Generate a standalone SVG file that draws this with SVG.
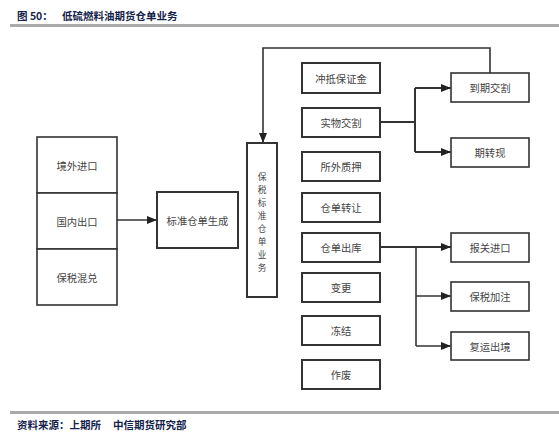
<svg xmlns="http://www.w3.org/2000/svg" width="559" height="435" viewBox="0 0 559 435">
<style>
.t{font-family:"Noto Sans CJK SC","Liberation Sans",sans-serif;font-size:10.3px;fill:#444;text-anchor:middle;dominant-baseline:central}
.v{font-size:8.7px}
.h{font-family:"Noto Sans CJK SC","Liberation Sans",sans-serif;font-size:10.5px;font-weight:bold;fill:#14234a}
.b{fill:#fff;stroke:#333;stroke-width:1.6}
.b2{fill:#fff;stroke:#333;stroke-width:2}
.c{fill:none;stroke:#333;stroke-width:1.6}
.c2{fill:none;stroke:#333;stroke-width:2}
</style>
<defs>
<marker id="ar" viewBox="0 0 10 8" refX="10" refY="4" markerWidth="10" markerHeight="8" markerUnits="userSpaceOnUse" orient="auto">
<path d="M0,0 L10,4 L0,8 Z" fill="#222"/>
</marker>
</defs>
<rect width="559" height="435" fill="#fff"/>
<g id="header">
<text class="h" x="17" y="15" dominant-baseline="central">图 50：</text>
<text class="h" x="62" y="15" dominant-baseline="central">低硫燃料油期货仓单业务</text>
<rect x="10" y="24" width="549" height="3" fill="#aaa"/>
</g>
<g id="footer">
<rect x="10" y="411" width="549" height="3" fill="#aaa"/>
<text class="h" x="17" y="424" dominant-baseline="central">资料来源：上期所</text>
<text class="h" x="113" y="424" dominant-baseline="central">中信期货研究部</text>
</g>
<g id="connectors">
<path class="c" d="M117,220 H157" marker-end="url(#ar)"/>
<path class="c" d="M490,73 V48 H263 V143" marker-end="url(#ar)"/>
<path class="c2" d="M380,122 H415"/>
<path class="c2" d="M415,88 V152"/>
<path class="c2" d="M415,88 H451" marker-end="url(#ar)"/>
<path class="c2" d="M415,152 H451" marker-end="url(#ar)"/>
<path class="c2" d="M380,247 H451" marker-end="url(#ar)"/>
<path class="c" d="M416,247 V346"/>
<path class="c" d="M416,296 H451" marker-end="url(#ar)"/>
<path class="c" d="M416,346 H451" marker-end="url(#ar)"/>
</g>
<g id="n-jingwai"><rect class="b" x="37" y="137" width="80" height="56"/><text class="t" x="77" y="165">境外进口</text></g>
<g id="n-guonei"><rect class="b" x="37" y="193" width="80" height="56"/><text class="t" x="77" y="221">国内出口</text></g>
<g id="n-baoshui"><rect class="b" x="37" y="249" width="80" height="56"/><text class="t" x="77" y="277">保税混兑</text></g>
<g id="n-biaozhun"><rect class="b2" x="157" y="192" width="81" height="56"/><text class="t" x="197.5" y="220">标准仓单生成</text></g>
<g id="n-vertical"><rect class="b2" x="247" y="143" width="30" height="154"/>
<text class="t v" x="262"><tspan x="262" y="176">保</tspan><tspan x="262" y="189">税</tspan><tspan x="262" y="202">标</tspan><tspan x="262" y="215">准</tspan><tspan x="262" y="228">仓</tspan><tspan x="262" y="241">单</tspan><tspan x="262" y="254">业</tspan><tspan x="262" y="267">务</tspan></text></g>
<g id="n-chongdi"><rect class="b2" x="302" y="63" width="78" height="30"/><text class="t" x="341" y="78">冲抵保证金</text></g>
<g id="n-shiwu"><rect class="b2" x="302" y="108" width="78" height="29"/><text class="t" x="341" y="122.5">实物交割</text></g>
<g id="n-suowai"><rect class="b2" x="302" y="152" width="78" height="29"/><text class="t" x="341" y="166.5">所外质押</text></g>
<g id="n-zhuanrang"><rect class="b2" x="302" y="193" width="78" height="29"/><text class="t" x="341" y="207.5">仓单转让</text></g>
<g id="n-chuku"><rect class="b2" x="302" y="233" width="78" height="29"/><text class="t" x="341" y="247.5">仓单出库</text></g>
<g id="n-biangeng"><rect class="b2" x="302" y="273" width="78" height="29"/><text class="t" x="341" y="287.5">变更</text></g>
<g id="n-dongjie"><rect class="b2" x="302" y="316" width="78" height="29"/><text class="t" x="341" y="330.5">冻结</text></g>
<g id="n-zuofei"><rect class="b2" x="302" y="360" width="78" height="29"/><text class="t" x="341" y="374.5">作废</text></g>
<g id="n-daoqi"><rect class="b" x="451" y="73" width="78" height="29"/><text class="t" x="490" y="87.5">到期交割</text></g>
<g id="n-qizhuanxian"><rect class="b" x="451" y="138" width="78" height="29"/><text class="t" x="490" y="152.5">期转现</text></g>
<g id="n-baoguan"><rect class="b" x="451" y="233" width="78" height="29"/><text class="t" x="490" y="247.5">报关进口</text></g>
<g id="n-jiazhu"><rect class="b" x="451" y="282" width="78" height="29"/><text class="t" x="490" y="296.5">保税加注</text></g>
<g id="n-fuyun"><rect class="b" x="451" y="332" width="78" height="28"/><text class="t" x="490" y="346">复运出境</text></g>
</svg>
